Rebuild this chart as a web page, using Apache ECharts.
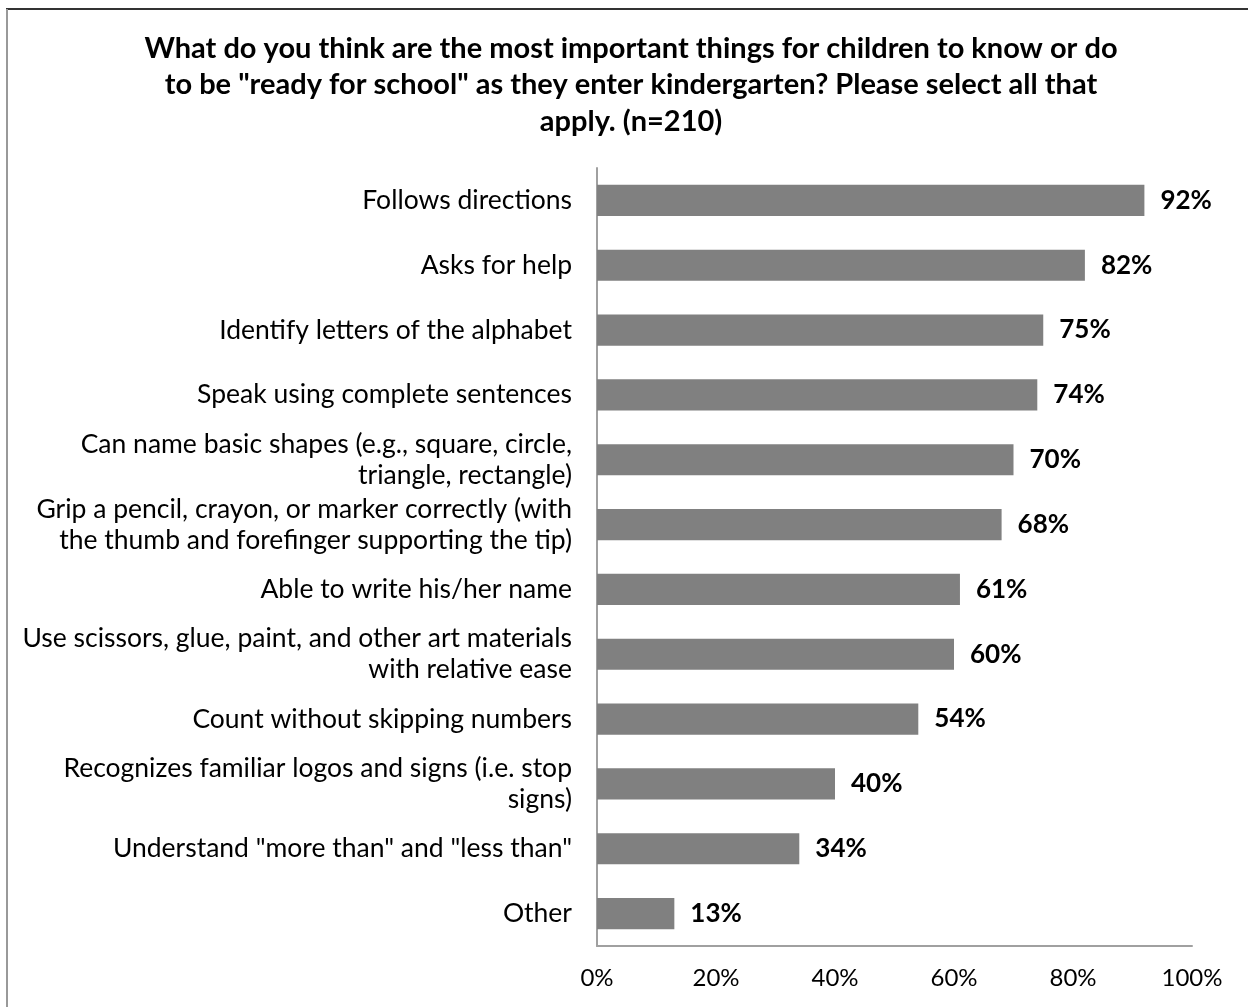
<!DOCTYPE html>
<html>
<head>
<meta charset="utf-8">
<script src="https://cdn.jsdelivr.net/npm/echarts@6/dist/echarts.min.js"></script>
<style>
html,body{margin:0;padding:0;background:#fff;}
#chart{width:1248px;height:1007px;}
</style>
</head>
<body>
<div id="chart"></div>
<script>
const titleText = 'What do you think are the most important things for children to know or do\nto be "ready for school" as they enter kindergarten? Please select all that\napply. (n=210)';
const categories = [
  'Follows directions',
  'Asks for help',
  'Identify letters of the alphabet',
  'Speak using complete sentences',
  'Can name basic shapes (e.g., square, circle,\ntriangle, rectangle)',
  'Grip a pencil, crayon, or marker correctly (with\nthe thumb and forefinger supporting the tip)',
  'Able to write his/her name',
  'Use scissors, glue, paint, and other art materials\nwith relative ease',
  'Count without skipping numbers',
  'Recognizes familiar logos and signs (i.e. stop\nsigns)',
  'Understand "more than" and "less than"',
  'Other'
];
const values = [92, 82, 75, 74, 70, 68, 61, 60, 54, 40, 34, 13];
const xTicks = [0, 20, 40, 60, 80, 100];

const chart = echarts.init(document.getElementById('chart'));
chart.setOption({
  animation: false,
  backgroundColor: '#fff',
  title: {
    text: titleText,
    left: 626, top: 25, textAlign: 'center',
    textStyle: {fontFamily: 'Lato', fontWeight: 'bold', fontSize: 29, lineHeight: 36.5, color: '#000'}
  },
  graphic: [
    {type: 'line', shape: {x1: 6, y1: 9, x2: 1248, y2: 9}, style: {stroke: '#333', lineWidth: 2}},
    {type: 'line', shape: {x1: 7, y1: 9, x2: 7, y2: 1007}, style: {stroke: '#999', lineWidth: 2}}
  ],
  grid: {left: 597, right: 56, top: 168, bottom: 61, containLabel: false},
  xAxis: {
    type: 'value', min: 0, max: 100, interval: 20,
    axisLine: {show: true, lineStyle: {color: '#a0a0a0', width: 2}},
    axisTick: {show: false},
    splitLine: {show: false},
    axisLabel: {
      margin: 20, fontFamily: 'Lato', fontSize: 24, color: '#000',
      formatter: function (v) { return xTicks.indexOf(v) >= 0 ? v + '%' : ''; }
    }
  },
  yAxis: {
    type: 'category', data: categories, inverse: true,
    axisLine: {show: true, lineStyle: {color: '#a0a0a0', width: 2}},
    axisTick: {show: false},
    axisLabel: {margin: 25, fontFamily: 'Lato', fontSize: 26.5, color: '#000', lineHeight: 31, align: 'right'}
  },
  series: [{
    type: 'bar', data: values, barWidth: '48%',
    itemStyle: {color: '#808080'},
    label: {
      show: true, position: 'right', distance: 16,
      fontFamily: 'Lato', fontWeight: 'bold', fontSize: 26, color: '#000',
      formatter: '{c}%'
    }
  }]
});
</script>
</body>
</html>
